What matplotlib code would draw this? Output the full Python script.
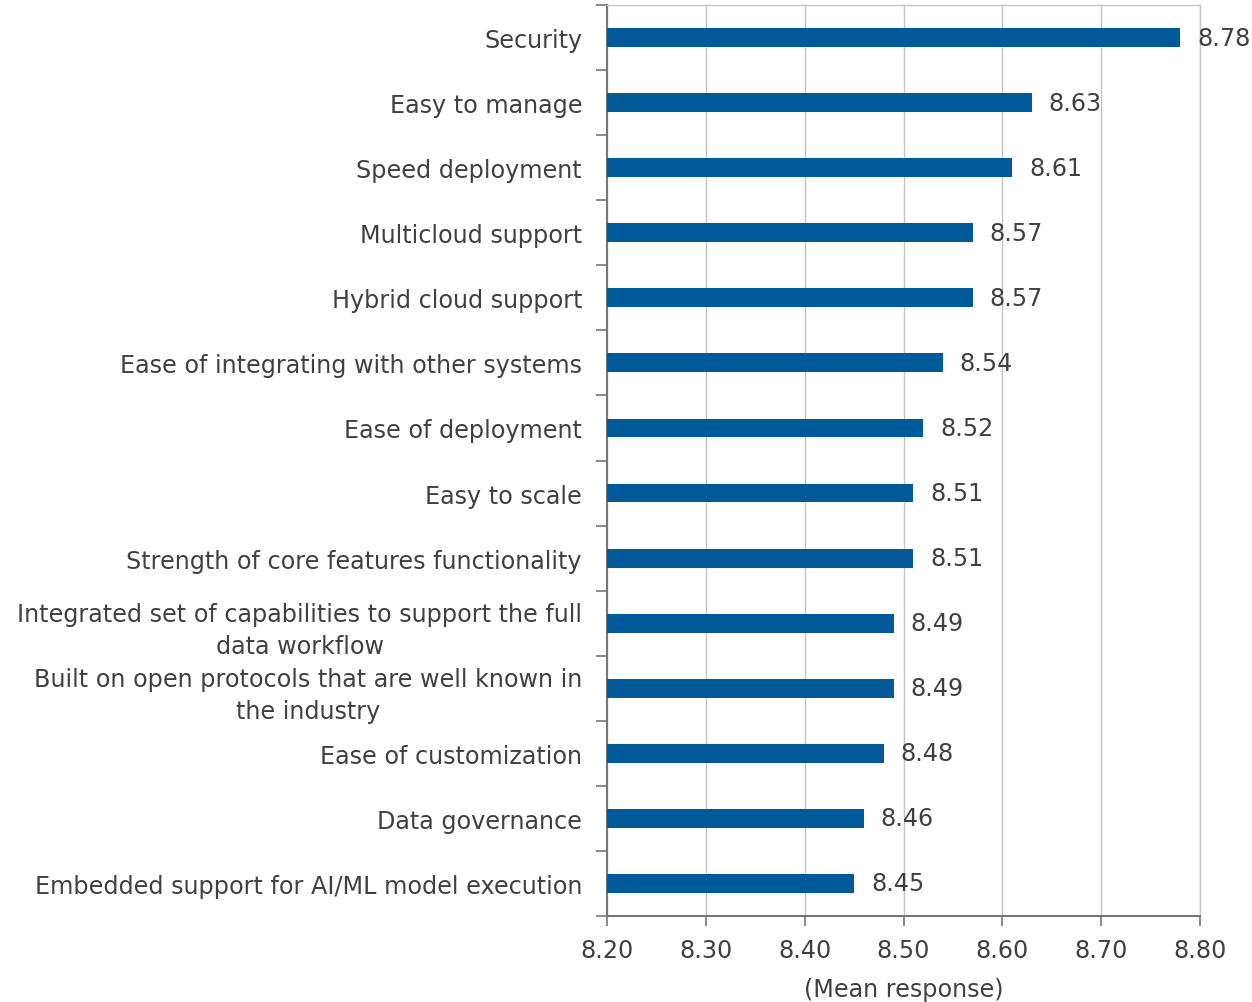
import numpy as np
import matplotlib
matplotlib.use("Agg")
import matplotlib.pyplot as plt

categories = [
    "Security",
    "Easy to manage",
    "Speed deployment",
    "Multicloud support",
    "Hybrid cloud support",
    "Ease of integrating with other systems",
    "Ease of deployment",
    "Easy to scale",
    "Strength of core features functionality",
    "Integrated set of capabilities to support the full\ndata workflow",
    "Built on open protocols that are well known in\nthe industry",
    "Ease of customization",
    "Data governance",
    "Embedded support for AI/ML model execution",
]
values = [8.78, 8.63, 8.61, 8.57, 8.57, 8.54, 8.52, 8.51, 8.51, 8.49, 8.49, 8.48, 8.46, 8.45]
xticks = [8.2, 8.3, 8.4, 8.5, 8.6, 8.7, 8.8]

text_color = "#404040"
bar_color = "#005A9A"
fs = 17.2

fig = plt.figure(figsize=(12.52, 10.03), dpi=100)
ax = fig.add_axes([607 / 1252, 1 - 917 / 1003, 593 / 1252, 911 / 1003])

n = len(categories)
y = np.arange(n)
ax.barh(y, [v - 8.2 for v in values], left=8.2, height=0.29, color=bar_color, zorder=3)

for yi, v in zip(y, values):
    ax.text(v + 0.017, yi, f"{v:.2f}", va="center", ha="left",
            fontsize=fs, color=text_color, zorder=4)

ax.set_xlim(8.2, 8.8)
ax.set_ylim(n - 0.5, -0.5)
ax.set_xticks(xticks)
ax.set_xticklabels([f"{t:.2f}" for t in xticks], fontsize=fs, color=text_color)
ax.set_yticks(y)
ax.set_yticklabels(categories, fontsize=fs, color=text_color)
for lab in ax.get_yticklabels():
    lab.set_multialignment("center")
    lab.set_linespacing(1.45)
ax.tick_params(axis="y", length=0, pad=18)
ax.set_yticks(np.arange(n + 1) - 0.5, minor=True)
ax.tick_params(axis="y", which="minor", length=8, width=1.2, color="#777777", direction="out")
ax.tick_params(axis="x", length=7, width=1.2, color="#777777", pad=9)

ax.grid(axis="x", color="#c4c4c4", linewidth=1, zorder=0)
ax.set_axisbelow(True)
for side in ["top", "right"]:
    ax.spines[side].set_color("#c4c4c4")
    ax.spines[side].set_linewidth(1)
for side in ["left", "bottom"]:
    ax.spines[side].set_color("#777777")
    ax.spines[side].set_linewidth(1.5)

ax.set_xlabel("(Mean response)", fontsize=fs, color=text_color, labelpad=11)

fig.savefig("out.png", dpi=100)
